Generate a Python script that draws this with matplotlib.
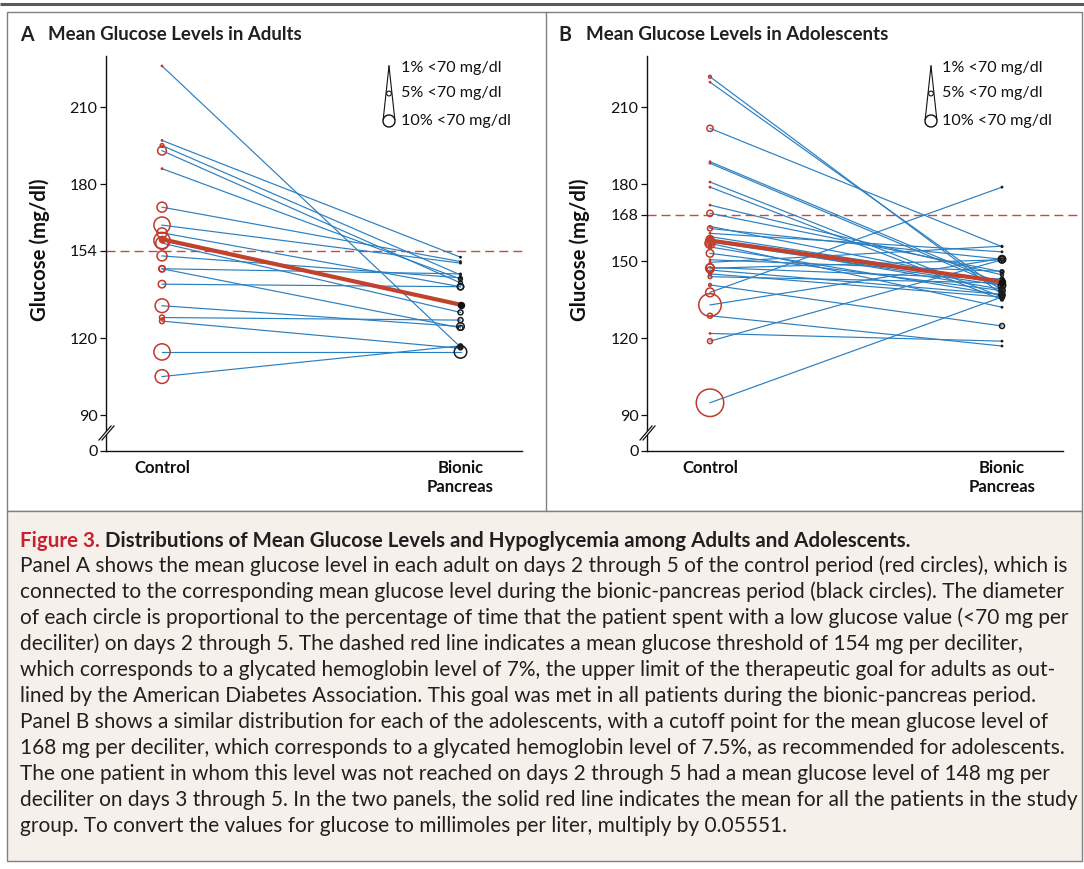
import numpy as np
import matplotlib
matplotlib.use("Agg")
import matplotlib.pyplot as plt
from matplotlib.patches import Rectangle, Circle, Polygon

plt.rcParams['font.family'] = ['Lato', 'DejaVu Sans']

# ---------------- data ----------------
groups = ["Control", "Bionic\nPancreas"]

adult_control = [226, 197, 195, 193, 186, 171, 164, 161, 158, 157, 152, 147, 147, 141, 132.6, 128, 126.6, 114.6, 105]
adult_bionic = [116.5, 151.5, 144.6, 141.5, 143, 149.8, 149.2, 140, 133, 130, 143.5, 145, 124, 140, 124.5, 127, 116, 114.6, 117]
adult_control_pct = [0, 0.5, 3, 7, 0, 8, 13, 8, 13, 10, 8, 5, 5, 6, 11, 4, 4, 13, 11]
adult_bionic_pct = [4, 0, 0.5, 3, 3, 0, 0, 5, 3, 4, 2, 0.5, 4, 5, 6, 4, 2, 10, 3]
adult_mean = [158.5, 133.0]
adult_threshold = 154
adult_yticks = [90, 120, 154, 180, 210]

adol_control = [221.8, 219.7, 201.7, 188.7, 188.1, 180.8, 178.8, 171.8, 168.6, 162.7, 160.8, 159.5,
                158.5, 157.5, 156.9, 155.5, 153, 149.5, 147.5, 147.2, 146.5, 145, 143.9, 140.7,
                137.8, 132.9, 128.7, 121.8, 118.8, 94.8, 150.5, 163.5]
adol_bionic = [137, 138.5, 155.6, 141, 140, 136, 135, 144.6, 145.8, 150.7, 153.6, 142,
               139, 140.5, 132, 136.8, 138.5, 155.8, 143, 150.5, 137, 136, 141.5, 124.7,
               178.8, 151, 116.9, 118.8, 150.5, 136, 146, 141]
adol_control_pct = [2, 0, 5, 0, 0, 1, 1, 0, 5, 4, 0.5, 1,
                    6, 7, 8, 2, 6, 1, 6, 7, 5, 2, 3, 2,
                    7, 18, 4, 1, 4, 22, 0, 0]
adol_bionic_pct = [1, 0.5, 0, 2, 3, 4, 2, 2, 3, 6, 0, 5,
                   4, 6, 0, 5, 5, 0, 3, 5, 4, 3, 2, 4,
                   0, 4, 0, 0, 2, 3, 2, 3]
adol_mean = [158.0, 142.0]
adol_threshold = 168
adol_yticks = [90, 120, 150, 168, 180, 210]

legend_pct = [1, 5, 10]
legend_labels = ["1% <70 mg/dl", "5% <70 mg/dl", "10% <70 mg/dl"]

caption_title_red = "Figure 3."
caption_title = "Distributions of Mean Glucose Levels and Hypoglycemia among Adults and Adolescents."
caption_lines = [
    "Panel A shows the mean glucose level in each adult on days 2 through 5 of the control period (red circles), which is",
    "connected to the corresponding mean glucose level during the bionic-pancreas period (black circles). The diameter",
    "of each circle is proportional to the percentage of time that the patient spent with a low glucose value (<70 mg per",
    "deciliter) on days 2 through 5. The dashed red line indicates a mean glucose threshold of 154 mg per deciliter,",
    "which corresponds to a glycated hemoglobin level of 7%, the upper limit of the therapeutic goal for adults as out-",
    "lined by the American Diabetes Association. This goal was met in all patients during the bionic-pancreas period.",
    "Panel B shows a similar distribution for each of the adolescents, with a cutoff point for the mean glucose level of",
    "168 mg per deciliter, which corresponds to a glycated hemoglobin level of 7.5%, as recommended for adolescents.",
    "The one patient in whom this level was not reached on days 2 through 5 had a mean glucose level of 148 mg per",
    "deciliter on days 3 through 5. In the two panels, the solid red line indicates the mean for all the patients in the study",
    "group. To convert the values for glucose to millimoles per liter, multiply by 0.05551.",
]

# ---------------- style ----------------
W, H = 1084, 869
RED = "#c0392b"
BLUE = "#2a7fc1"
DARK = "#231f20"
BEIGE = "#f5f1ea"
FRAME = "#808080"
PX_PER_PCT = 1.25
YTOP, YBOT = 230.0, 76.2

fig = plt.figure(figsize=(W / 100, H / 100), dpi=100)

under = fig.add_axes([0, 0, 1, 1], zorder=0)
under.set_xlim(0, W)
under.set_ylim(H, 0)
under.axis("off")

bg = fig.add_axes([0, 0, 1, 1], zorder=5)
bg.set_xlim(0, W)
bg.set_ylim(H, 0)
bg.axis("off")
bg.patch.set_visible(False)
renderer = fig.canvas.get_renderer()


def fit(t, target_w, vertical=False):
    bb = t.get_window_extent(renderer=renderer)
    cur = bb.height if vertical else bb.width
    t.set_fontsize(t.get_fontsize() * target_w / cur)
    return t


# frames
under.plot([0, W], [4, 4], color="#5a5a5a", lw=2.2, solid_capstyle="butt")
under.add_patch(Rectangle((7, 12), W - 9, 499, facecolor="white", edgecolor=FRAME, lw=1.0))
under.add_patch(Rectangle((7, 511), W - 9, 350, facecolor=BEIGE, edgecolor=FRAME, lw=1.0))
under.plot([546, 546], [12, 511], color=FRAME, lw=1.0)


def size_pt2(p):
    d = max(2.8, PX_PER_PCT * p) * 0.72
    return d * d


def panel(left_px, ctrl_x_px, bion_x_px, ctrl, bion, cpct, bpct, mean, thr, yticks, thr_right_px):
    axl, axr = left_px, left_px + 416
    top_px, bot_px = 55.7, 450.5
    ax = fig.add_axes([axl / W, 1 - bot_px / H, (axr - axl) / W, (bot_px - top_px) / H], zorder=2)
    ax.set_facecolor("none")
    unit = bion_x_px - ctrl_x_px
    x0 = (axl - ctrl_x_px) / unit
    x1 = (axr - ctrl_x_px) / unit
    ax.set_xlim(x0, x1)
    ax.set_ylim(YBOT, YTOP)
    for c, b in zip(ctrl, bion):
        ax.plot([0, 1], [c, b], color=BLUE, lw=0.85, zorder=2)
    # threshold
    ax.plot([x0, (thr_right_px - ctrl_x_px) / unit], [thr, thr], color="#c94a3c", lw=1.0,
            dashes=(6.5, 3.6), clip_on=False, zorder=1)
    # circles
    for xs, vals, pcts, col in ((0, ctrl, cpct, RED), (1, bion, bpct, "#1a1a1a")):
        vals = np.asarray(vals, float)
        pcts = np.asarray(pcts, float)
        small = pcts < 2
        ax.scatter(np.full(small.sum(), xs), vals[small], s=[size_pt2(p) for p in pcts[small]],
                   color=col, lw=0, zorder=3, clip_on=False)
        ax.scatter(np.full((~small).sum(), xs), vals[~small], s=[size_pt2(p) for p in pcts[~small]],
                   facecolors="none", edgecolors=col, lw=1.1, zorder=3, clip_on=False)
    # mean
    ax.plot([0, 1], mean, color="#c1432e", lw=3.0, zorder=4, solid_capstyle="round")
    ax.scatter([0], [mean[0]], s=(6.5 * 0.72) ** 2, color="#c1432e", zorder=5)
    ax.scatter([1], [mean[1]], s=(6 * 0.72) ** 2, color="#111111", zorder=5)

    for s in ("top", "right"):
        ax.spines[s].set_visible(False)
    for s in ("left", "bottom"):
        ax.spines[s].set_linewidth(1.0)
        ax.spines[s].set_color("#111111")
    ax.set_yticks(list(yticks) + [YBOT])
    ax.set_yticklabels([str(v) for v in yticks] + ["0"])
    ax.tick_params(axis="y", length=4.5, width=0.9, pad=1.5, labelsize=11.5, colors="#111111")
    ax.set_xticks([0, 1])
    ax.set_xticklabels(groups, fontweight="bold", fontsize=12, linespacing=1.25)
    ax.tick_params(axis="x", length=0, pad=7, colors="#111111")
    # axis break
    sx = axl
    by = 431
    bg.add_patch(Polygon([(sx - 7, by + 9), (sx + 5, by - 5), (sx + 8, by - 5), (sx - 4, by + 9)],
                         closed=True, facecolor="white", edgecolor="none", zorder=5))
    bg.plot([sx - 7, sx + 5], [by + 9, by - 5], color="#111111", lw=0.9, zorder=6)
    bg.plot([sx - 4, sx + 8], [by + 9, by - 5], color="#111111", lw=0.9, zorder=6)
    return ax


panel(106, 162, 460.5, adult_control, adult_bionic, adult_control_pct, adult_bionic_pct,
      adult_mean, adult_threshold, adult_yticks, 523)
panel(647, 710, 1002, adol_control, adol_bionic, adol_control_pct, adol_bionic_pct,
      adol_mean, adol_threshold, adol_yticks, 1078)

# panel titles
for lx, tx, letter, title, tw in ((20, 48, "A", "Mean Glucose Levels in Adults", 252),
                                  (558, 586, "B", "Mean Glucose Levels in Adolescents", 301)):
    t = bg.text(tx, 35, title, fontweight="bold", fontsize=12, color=DARK, va="center", ha="left")
    fit(t, tw)
    bg.text(lx, 35, letter, fontweight="bold", fontsize=t.get_fontsize() * 1.05, color=DARK,
            va="center", ha="left")

# y labels
for x in (40, 580):
    t = bg.text(x, 250, "Glucose (mg/dl)", rotation=90, fontweight="bold", fontsize=12,
                color="#111111", va="center", ha="center")
    fit(t, 142, vertical=True)

# legends
for cx, tx in ((389, 401), (931, 942)):
    r10 = 6.0
    cy10 = 121
    apex = 66
    bg.plot([cx, cx - r10 * 0.97], [apex, cy10 - 1.5], color="#111111", lw=0.8, zorder=6)
    bg.plot([cx, cx + r10 * 0.97], [apex, cy10 - 1.5], color="#111111", lw=0.8, zorder=6)
    bg.add_patch(Circle((cx, cy10), r10, facecolor="white", edgecolor="#111111", lw=1.0, zorder=7))
    bg.add_patch(Circle((cx, 93.5), 2.4, facecolor="white", edgecolor="#111111",
                        lw=0.8, zorder=7))
    for yy, lab in zip((68, 93.5, 120.5), legend_labels):
        t = bg.text(tx, yy, lab, fontsize=11.5, color="#111111", va="center", ha="left")
        if lab.startswith("10%"):
            fit(t, 110)
            fs = t.get_fontsize()
    for tt in bg.texts[-3:]:
        tt.set_fontsize(fs)

# caption
full = bg.text(20, 541, caption_title_red + " " + caption_title, fontweight="bold", fontsize=12)
fit(full, 888)
fs_title = full.get_fontsize()
full.remove()
t1 = bg.text(20, 541, caption_title_red, fontweight="bold", fontsize=fs_title, color="#c8202f",
             va="center", ha="left")
bb = t1.get_window_extent(renderer=renderer)
sp = bg.text(0, 0, "a a", fontsize=fs_title, fontweight="bold")
w_aa = sp.get_window_extent(renderer=renderer).width
sp2 = bg.text(0, 0, "aa", fontsize=fs_title, fontweight="bold")
w_space = w_aa - sp2.get_window_extent(renderer=renderer).width
sp.remove(); sp2.remove()
bg.text(bb.x1 + w_space, 541, caption_title, fontweight="bold", fontsize=fs_title, color=DARK,
        va="center", ha="left")

ref = bg.text(20, 800, caption_lines[9], fontsize=12)
fit(ref, 1052)
fs_body = ref.get_fontsize()
ref.remove()
for i, line in enumerate(caption_lines):
    bg.text(20, 566 + 26 * i, line, fontsize=fs_body, color=DARK, va="center", ha="left")

fig.savefig("out.png", dpi=100)
